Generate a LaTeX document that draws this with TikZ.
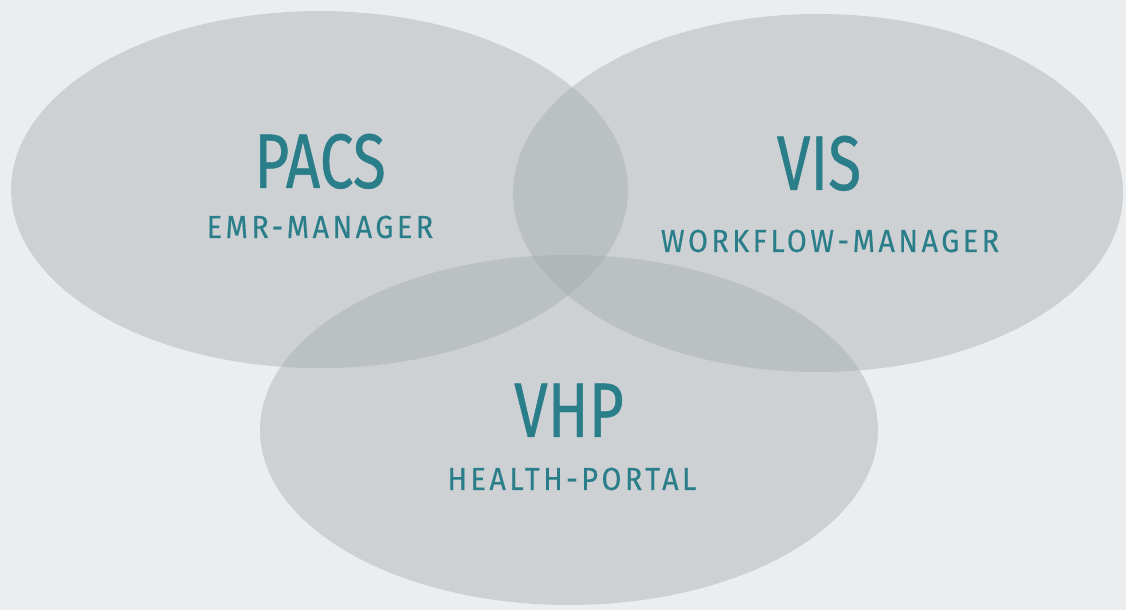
\documentclass[tikz,border=0pt]{standalone}
\usepackage{fontspec}
\usetikzlibrary{shapes.geometric}
\newfontfamily\venntitle[FakeStretch=0.78,FakeBold=0.6]{Fira Sans}
\newfontfamily\vennsub[FakeStretch=0.9,LetterSpace=11,FakeBold=0.3]{Fira Sans}
\definecolor{hintergrund}{RGB}{236,237,239}
\definecolor{kreisgrau}{RGB}{163,169,173}
\definecolor{petrol}{RGB}{42,126,138}
\tikzset{kreis/.style = {
    shape=ellipse, fill=kreisgrau, fill opacity=0.41, draw=none, inner sep=0pt
}}
\tikzset{titel/.style = {
    anchor=base, text=petrol, inner sep=0pt, font=\venntitle\fontsize{55}{60}\selectfont
}}
\tikzset{untertitel/.style = {
    anchor=base, text=petrol, inner sep=0pt, font=\vennsub\fontsize{22.7}{26}\selectfont
}}

\begin{document}
\begin{tikzpicture}
  \fill[hintergrund] (0,0) rectangle (28.15,15.25);
  \useasboundingbox (0,0) rectangle (28.15,15.25);
  % die drei Ellipsen
  \node (pacs) at (7.99,10.51) [kreis, minimum width=15.425cm, minimum height=8.925cm] {};
  \node (vis) at (20.45,10.425) [kreis, minimum width=15.25cm, minimum height=8.95cm] {};
  \node (vhp) at (14.225,4.5) [kreis, minimum width=15.45cm, minimum height=8.75cm] {};
  % Beschriftung
  \node (pacs titel) at (8.0,10.55) [titel] {PACS};
  \node (pacs untertitel) at (8.0,9.3) [untertitel] {EMR-MANAGER};
  \node (vis titel) at (20.475,10.5) [titel] {VIS};
  \node (vis untertitel) at (20.75,8.95) [untertitel] {WORKFLOW-MANAGER};
  \node (vhp titel) at (14.225,4.325) [titel] {VHP};
  \node (vhp untertitel) at (14.3,3.0) [untertitel] {HEALTH-PORTAL};
\end{tikzpicture}
\end{document}
